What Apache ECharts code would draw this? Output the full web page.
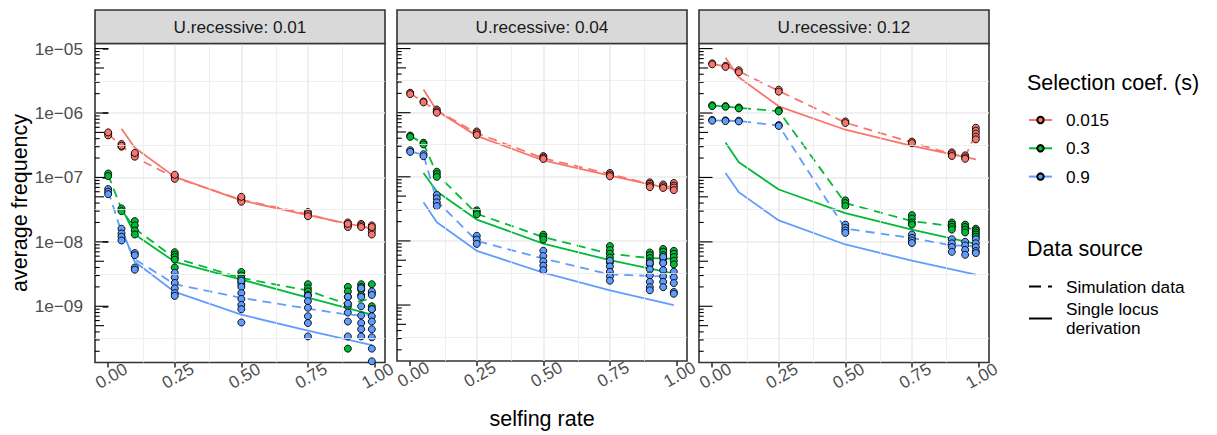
<!DOCTYPE html>
<html><head><meta charset="utf-8">
<script src="https://cdn.jsdelivr.net/npm/echarts@6/dist/echarts.min.js"></script>
<style>html,body{margin:0;padding:0;background:#fff}#c{width:1217px;height:435px}</style>
</head><body><div id="c"></div><script>
// ---------- DATA ----------
const selfing = [0, 0.05, 0.1, 0.25, 0.5, 0.75, 0.9, 0.95, 0.99];
const theoryX = [0.05, 0.1, 0.25, 0.5, 0.75, 0.99];
const sLabels = ['0.015', '0.3', '0.9'];
const uLabels = ['U.recessive: 0.01', 'U.recessive: 0.04', 'U.recessive: 0.12'];
const xTickLabels = [0, 0.25, 0.5, 0.75, 1];
const xMinorBreaks = [0.125, 0.375, 0.625, 0.875];
const yTickExps = [-9, -8, -7, -6, -5];
const yMinorExps = [-9.5, -8.5, -7.5, -6.5, -5.5];

// U.recessive 0.01
const u01_s015_pts = [[4.8e-7,4.5e-7,5.0e-7],[3.3e-7,3.0e-7,3.1e-7],[2.3e-7,2.1e-7,2.4e-7],[1.05e-7,9.5e-8,1.1e-7],[4.8e-8,4.4e-8,4.2e-8,5.0e-8],[2.9e-8,2.7e-8,2.5e-8],[2.0e-8,1.8e-8,1.7e-8,1.9e-8],[1.9e-8,1.8e-8,1.7e-8],[1.8e-8,1.6e-8,1.45e-8,1.3e-8,1.7e-8]];
const u01_s015_sim = [4.7e-7,3.1e-7,2.05e-7,1.0e-7,4.5e-8,2.7e-8,1.85e-8,1.8e-8,1.55e-8];
const u01_s015_theory = [5.7e-7,2.9e-7,1.02e-7,4.4e-8,2.6e-8,1.6e-8];
const u01_s3_pts = [[1.15e-7,1.05e-7],[3.3e-8,3.0e-8],[2.1e-8,1.8e-8,1.5e-8,1.3e-8],[6.9e-9,6.3e-9,5.8e-9,5.3e-9,4.0e-9],[3.4e-9,3.0e-9,2.7e-9,2.4e-9,2.2e-9],[2.2e-9,1.9e-9,1.7e-9,1.5e-9],[2.0e-9,1.7e-9,1.4e-9,1.0e-9,2.2e-10],[2.2e-9,2.0e-9,1.8e-9,1.5e-9],[2.2e-9,1.6e-9,1.0e-9,9.0e-10]];
const u01_s3_sim = [1.1e-7,3.2e-8,1.6e-8,5.6e-9,2.75e-9,1.75e-9,1.07e-9,1.2e-9,1.35e-9];
const u01_s3_theory = [3.4e-8,1.3e-8,4.9e-9,2.6e-9,1.36e-9,7.4e-10];
const u01_s9_pts = [[6.6e-8,6.0e-8,5.5e-8],[1.6e-8,1.35e-8,1.2e-8,1.05e-8],[6.7e-9,6.2e-9,4.0e-9,3.7e-9],[3.3e-9,2.8e-9,2.3e-9,1.9e-9,1.6e-9,1.45e-9],[2.5e-9,2.0e-9,1.6e-9,1.3e-9,1.05e-9,9.0e-10,5.6e-10],[1.45e-9,1.2e-9,9.5e-10,7.0e-10,5.5e-10,3.4e-10],[1.4e-9,1.1e-9,8.0e-10,5.8e-10,3.4e-10],[1.9e-9,1.4e-9,1.0e-9,7.2e-10,5.5e-10,4.4e-10,3.4e-10],[1.7e-9,1.5e-9,9.0e-10,7.0e-10,5.8e-10,4.4e-10,3.3e-10,2.2e-10,1.4e-10]];
const u01_s9_sim = [6.2e-8,1.4e-8,5.4e-9,2.2e-9,1.35e-9,9.2e-10,7.4e-10,7.3e-10,7.4e-10];
const u01_s9_theory = [1.6e-8,4.9e-9,1.67e-9,7.4e-10,4.2e-10,2.5e-10];

// U.recessive 0.04
const u04_s015_pts = [[2.05e-6,1.95e-6],[1.5e-6,1.45e-6],[1.12e-6,1.05e-6,1.0e-6],[5.1e-7,4.8e-7,4.5e-7],[2.1e-7,2.0e-7,1.9e-7],[1.15e-7,1.08e-7,1.02e-7],[8.2e-8,7.8e-8,7.3e-8,6.9e-8],[7.6e-8,7.1e-8,6.7e-8],[8.0e-8,7.3e-8,6.8e-8,6.2e-8]];
const u04_s015_sim = [2.0e-6,1.47e-6,1.08e-6,4.8e-7,1.95e-7,1.1e-7,7.7e-8,7.1e-8,7.0e-8];
const u04_s015_theory = [2.3e-6,1.07e-6,4.35e-7,1.8e-7,1.04e-7,6.3e-8];
const u04_s3_pts = [[4.4e-7,4.2e-7],[3.4e-7,3.2e-7],[1.2e-7,1.1e-7,1.0e-7],[3.0e-8,2.8e-8,2.6e-8],[1.25e-8,1.15e-8,1.05e-8],[8.3e-9,7.2e-9,6.3e-9,5.5e-9,4.6e-9],[6.6e-9,6.0e-9,5.4e-9,4.8e-9,4.3e-9],[7.5e-9,6.8e-9,6.0e-9,5.3e-9,4.6e-9],[7.0e-9,6.3e-9,5.6e-9,4.9e-9,4.3e-9]];
const u04_s3_sim = [4.35e-7,3.3e-7,1.1e-7,2.65e-8,1.15e-8,6.3e-9,5.4e-9,5.3e-9,5.3e-9];
const u04_s3_theory = [1.15e-7,5.9e-8,2.15e-8,9.1e-9,5.0e-9,3.1e-9];
const u04_s9_pts = [[2.6e-7,2.45e-7],[2.25e-7,2.1e-7],[5.2e-8,4.6e-8,4.0e-8,3.5e-8],[1.2e-8,1.05e-8,9.0e-9],[7.0e-9,5.8e-9,4.8e-9,4.1e-9,3.5e-9],[4.9e-9,4.0e-9,3.3e-9,2.8e-9,2.4e-9],[4.5e-9,3.6e-9,2.9e-9,2.3e-9,1.9e-9,1.7e-9],[5.6e-9,4.5e-9,3.5e-9,2.8e-9,2.3e-9,1.9e-9],[3.3e-9,2.7e-9,2.2e-9,1.6e-9,1.5e-9]];
const u04_s9_sim = [2.5e-7,2.2e-7,4.2e-8,1.0e-8,5.3e-9,3.0e-9,2.85e-9,2.8e-9,2.8e-9];
const u04_s9_theory = [4.0e-8,1.96e-8,7.0e-9,3.2e-9,1.7e-9,1.0e-9];

// U.recessive 0.12
const u12_s015_pts = [[5.9e-6,5.7e-6],[5.4e-6,5.2e-6],[4.6e-6,4.3e-6],[2.3e-6,2.15e-6],[7.4e-7,7.0e-7],[3.6e-7,3.4e-7],[2.45e-7,2.3e-7,2.15e-7],[2.2e-7,2.05e-7,1.95e-7],[5.9e-7,5.3e-7,4.8e-7,4.3e-7,3.9e-7]];
const u12_s015_sim = [5.8e-6,5.3e-6,4.45e-6,2.2e-6,7.1e-7,3.5e-7,2.3e-7,2.1e-7,4.8e-7];
const u12_s015_theory = [7.2e-6,3.6e-6,1.27e-6,5.5e-7,3.1e-7,1.9e-7];
const u12_s3_pts = [[1.32e-6,1.28e-6],[1.28e-6,1.25e-6],[1.22e-6,1.18e-6],[1.1e-6,1.06e-6],[4.4e-8,4.0e-8,3.6e-8],[2.6e-8,2.3e-8,2.0e-8,1.85e-8],[2.0e-8,1.85e-8,1.7e-8,1.55e-8],[1.85e-8,1.7e-8,1.55e-8,1.4e-8],[1.6e-8,1.5e-8,1.4e-8,1.3e-8,1.2e-8]];
const u12_s3_sim = [1.3e-6,1.27e-6,1.2e-6,1.07e-6,4.0e-8,2.1e-8,1.75e-8,1.7e-8,1.5e-8];
const u12_s3_theory = [3.5e-7,1.72e-7,6.5e-8,2.8e-8,1.55e-8,9.3e-9];
const u12_s9_pts = [[7.8e-7,7.6e-7],[7.7e-7,7.5e-7],[7.6e-7,7.4e-7],[6.5e-7,6.3e-7],[1.85e-8,1.65e-8,1.5e-8,1.38e-8],[1.3e-8,1.15e-8,1.05e-8,9.6e-9],[1.1e-8,9.5e-9,8.3e-9,7.0e-9],[1.0e-8,8.8e-9,7.5e-9,6.3e-9],[1.1e-8,9.5e-9,8.3e-9,7.2e-9,6.7e-9]];
const u12_s9_sim = [7.7e-7,7.6e-7,7.5e-7,6.4e-7,1.6e-8,1.15e-8,8.8e-9,8.7e-9,8.5e-9];
const u12_s9_theory = [1.17e-7,5.9e-8,2.15e-8,9.1e-9,5.1e-9,3.1e-9];

// ---------- STYLE / LAYOUT ----------
const FONT = '"Liberation Sans", Arial, Helvetica, sans-serif';
const sColors = ['#F8766D', '#00BA38', '#619CFF'];
const X_MIN = -0.0495, X_MAX = 1.0395;
const Y_MIN = Math.log10(1.34e-10), Y_MAX = Math.log10(1.2e-5);
const panelLeft = [95, 397, 699];
const PANEL_W = 290, PANEL_TOP = 43.5, PANEL_H = 319;
const DASH = [9, 6];

const panels = [
  { pts: [u01_s015_pts, u01_s3_pts, u01_s9_pts], sim: [u01_s015_sim, u01_s3_sim, u01_s9_sim], th: [u01_s015_theory, u01_s3_theory, u01_s9_theory] },
  { pts: [u04_s015_pts, u04_s3_pts, u04_s9_pts], sim: [u04_s015_sim, u04_s3_sim, u04_s9_sim], th: [u04_s015_theory, u04_s3_theory, u04_s9_theory] },
  { pts: [u12_s015_pts, u12_s3_pts, u12_s9_pts], sim: [u12_s015_sim, u12_s3_sim, u12_s9_sim], th: [u12_s015_theory, u12_s3_theory, u12_s9_theory] }
];

// log tick marks (annotation_logticks): k * 10^n
const logTicks = [];
for (let n = -10; n <= -5; n++) {
  for (let k = 1; k <= 9; k++) {
    const v = n + Math.log10(k);
    if (v >= Y_MIN && v <= Y_MAX) logTicks.push([X_MIN, v, k]);
  }
}

const grids = [], xAxes = [], yAxes = [], series = [], graphics = [];
panels.forEach((P, p) => {
  grids.push({ left: panelLeft[p], top: PANEL_TOP, width: PANEL_W, height: PANEL_H, show: true,
    backgroundColor: '#fff', borderColor: '#333333', borderWidth: 1.6, containLabel: false });
  xAxes.push({
    type: 'value', gridIndex: p, min: X_MIN, max: X_MAX,
    axisLine: { show: false },
    axisTick: { show: true, length: 5, lineStyle: { color: '#333333', width: 1.6 }, customValues: xTickLabels },
    axisLabel: { show: true, customValues: xTickLabels, rotate: 30, align: 'center', verticalAlign: 'middle',
      margin: 15, padding: [0, 0, 0, 7], fontSize: 17.2, color: '#4d4d4d', fontFamily: FONT,
      formatter: v => Number(v).toFixed(2) },
    splitLine: { show: true, showMinLine: false, showMaxLine: false, lineStyle: { color: '#ebebeb', width: 1.6 } },
    name: p === 1 ? 'selfing rate' : '', nameLocation: 'middle', nameGap: 47,
    nameTextStyle: { fontSize: 21.5, color: '#000', fontFamily: FONT }
  });
  yAxes.push({
    type: 'value', gridIndex: p, min: Y_MIN, max: Y_MAX,
    axisLine: { show: false },
    axisTick: { show: p === 0, length: 5.5, lineStyle: { color: '#333333', width: 1.6 }, customValues: yTickExps },
    axisLabel: { show: p === 0, customValues: yTickExps, margin: 12, fontSize: 17.2, color: '#4d4d4d', fontFamily: FONT,
      formatter: v => '1e\u2212' + String(Math.round(-v)).padStart(2, '0') },
    splitLine: { show: true, showMinLine: false, showMaxLine: false, lineStyle: { color: '#ebebeb', width: 1.6 } },
    name: p === 0 ? 'average frequency' : '', nameLocation: 'middle', nameGap: 63,
    nameTextStyle: { fontSize: 21.5, color: '#000', fontFamily: FONT }
  });

  // minor grid + log ticks
  series.push({
    type: 'custom', name: 'logticks' + p, xAxisIndex: p, yAxisIndex: p, z: 1, silent: true, animation: false,
    data: logTicks, encode: { x: 0, y: 1 },
    renderItem: (params, api) => {
      const pt = api.coord([api.value(0), api.value(1)]);
      const k = api.value(2);
      const len = k === 1 ? 13.5 : (k === 5 ? 9 : 4.7);
      const x0 = params.coordSys.x;
      return { type: 'line', shape: { x1: x0, y1: pt[1], x2: x0 + len, y2: pt[1] },
        style: { stroke: '#000', lineWidth: 1.1 } };
    },
    markLine: {
      silent: true, symbol: ['none', 'none'], label: { show: false }, animation: false,
      lineStyle: { color: '#ebebeb', width: 0.8, type: 'solid' },
      emphasis: { disabled: true },
      data: xMinorBreaks.map(v => ({ xAxis: v })).concat(yMinorExps.map(v => ({ yAxis: v })))
    }
  });

  for (let s = 0; s < 3; s++) {
    const pts = [];
    P.pts[s].forEach((arr, j) => arr.forEach(v => pts.push([selfing[j], Math.log10(v)])));
    series.push({
      type: 'line', name: 'sim' + p + s, xAxisIndex: p, yAxisIndex: p, z: 3, animation: false,
      showSymbol: false, symbol: 'none', silent: true,
      data: P.sim[s].map((v, j) => [selfing[j], Math.log10(v)]),
      lineStyle: { color: sColors[s], width: 1.8, type: DASH }
    });
    series.push({
      type: 'line', name: 'th' + p + s, xAxisIndex: p, yAxisIndex: p, z: 3, animation: false,
      showSymbol: false, symbol: 'none', silent: true,
      data: P.th[s].map((v, j) => [theoryX[j], Math.log10(v)]),
      lineStyle: { color: sColors[s], width: 1.8, type: 'solid' }
    });
    series.push({
      type: 'scatter', name: 'pts' + p + s, xAxisIndex: p, yAxisIndex: p, z: 4, animation: false, silent: true,
      symbol: 'circle', symbolSize: 7,
      itemStyle: { color: sColors[s], borderColor: '#000', borderWidth: 0.9, opacity: 1 },
      data: pts
    });
  }

  // strip
  graphics.push({ type: 'rect', shape: { x: panelLeft[p], y: 10, width: PANEL_W, height: PANEL_TOP - 10 },
    style: { fill: '#d9d9d9', stroke: '#333333', lineWidth: 1.6 }, z: 10 });
  graphics.push({ type: 'text', x: panelLeft[p] + PANEL_W / 2, y: 27, z: 11,
    style: { text: uLabels[p], fill: '#1a1a1a', font: '17.2px ' + FONT, align: 'center', verticalAlign: 'middle' } });
});

// legend dummy series
sLabels.forEach((lab, s) => {
  series.push({ type: 'line', name: lab, xAxisIndex: 0, yAxisIndex: 0, data: [], symbol: 'circle', symbolSize: 7,
    itemStyle: { color: sColors[s], borderColor: '#000', borderWidth: 0.9 },
    lineStyle: { color: sColors[s], width: 1.8 } });
});
series.push({ type: 'line', name: 'Simulation data', xAxisIndex: 0, yAxisIndex: 0, data: [], symbol: 'circle',
  itemStyle: { color: '#000', opacity: 0 }, lineStyle: { color: '#000', width: 2.2, type: [12, 7] } });
series.push({ type: 'line', name: 'Single locus derivation', xAxisIndex: 0, yAxisIndex: 0, data: [], symbol: 'circle',
  itemStyle: { color: '#000', opacity: 0 }, lineStyle: { color: '#000', width: 2.2, type: 'solid' } });

graphics.push({ type: 'text', x: 1027, y: 83, style: { text: 'Selection coef. (s)', fill: '#000', font: '21.5px ' + FONT, align: 'left', verticalAlign: 'middle' } });
graphics.push({ type: 'text', x: 1027, y: 248.5, style: { text: 'Data source', fill: '#000', font: '21.5px ' + FONT, align: 'left', verticalAlign: 'middle' } });

const legendText = { fontSize: 17.2, color: '#000', fontFamily: FONT, padding: [0, 0, 0, 9] };
const option = {
  animation: false,
  backgroundColor: '#ffffff',
  grid: grids, xAxis: xAxes, yAxis: yAxes, series: series,
  graphic: graphics,
  legend: [
    { data: sLabels, orient: 'vertical', left: 1028, top: 111.5, itemWidth: 23, itemHeight: 8, itemGap: 11.3,
      padding: 0, selectedMode: false, textStyle: legendText },
    { data: [{ name: 'Simulation data', itemStyle: { opacity: 0 } }], orient: 'vertical', left: 1028, top: 278, itemWidth: 23, itemHeight: 8,
      padding: 0, selectedMode: false, textStyle: legendText },
    { data: [{ name: 'Single locus derivation', itemStyle: { opacity: 0 } }], orient: 'vertical', left: 1028, top: 299, itemWidth: 23, itemHeight: 8,
      padding: 0, selectedMode: false, textStyle: Object.assign({ lineHeight: 19.5 }, legendText),
      formatter: () => 'Single locus\nderivation' }
  ]
};
const chart = echarts.init(document.getElementById('c'), null, { renderer: 'svg', width: 1217, height: 435 });
chart.setOption(option);
</script></body></html>
